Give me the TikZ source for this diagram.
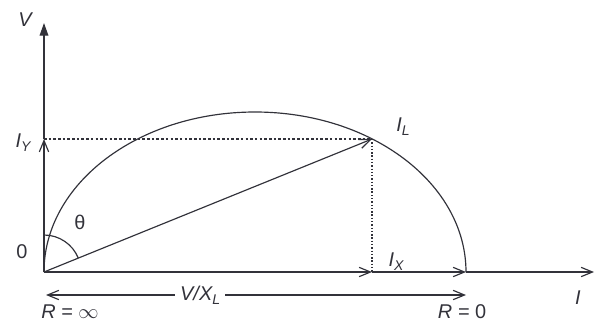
\documentclass[tikz,border=0pt]{standalone}
\usepackage{fontspec}
\setmainfont{Liberation Sans}
\usetikzlibrary{arrows.meta,positioning,calc}
\definecolor{ink}{RGB}{50,50,58}
\newcommand{\lsub}[2]{#1\raisebox{-0.4ex}{\fontsize{12}{12}\selectfont #2}}

\begin{document}
\begin{tikzpicture}[x=0.3mm,y=0.3mm,
    axis/.style={draw=ink,line width=1.1pt},
    vec/.style={draw=ink,line width=1pt,-{Straight Barb[length=3.4mm,width=2.8mm]}},
    proj/.style={draw=ink,line width=1pt},
    lbl/.style={text=ink,font=\fontsize{17}{17}\selectfont\itshape,inner sep=1pt}]
  \useasboundingbox (0,0) rectangle (596,325);
  % points of the diagram
  \coordinate (O) at (44,53);
  \coordinate (Vtop) at (44,302);
  \coordinate (Iend) at (594,53);
  \coordinate (IL) at (372,186);
  \coordinate (IY) at (44,186);
  \coordinate (IX) at (372,53);
  \coordinate (R0) at (466,53);
  \coordinate (Rl) at (46,30);
  \coordinate (Rr) at (466,30);

  % circle locus
  \draw[axis,line width=1pt] (O) arc[start angle=180,end angle=0,x radius=211,y radius=160];
  % axes
  \draw[vec] (O) -- (IY);
  \draw[axis,-{Triangle[length=3.8mm,width=2.6mm]}] (IY) -- (Vtop);
  \draw[vec] (O) -- (IX);
  \draw[vec] (IX) -- (R0);
  \draw[vec] (R0) -- (Iend);
  % current phasor and its parts
  \draw[vec] (O) -- (IL);
  \draw[proj,dash pattern=on 2.2pt off 1.8pt] (IY) -- (IL);
  \draw[proj,dash pattern=on 1.2pt off 1.6pt] (IL) -- (IX);
  \draw[axis,line width=1pt] ($(O)+(0,37)$) arc[start angle=90,end angle=22,radius=37];
  % range arrow
  \draw[vec,{Straight Barb[length=3.4mm,width=2.8mm]}-{Straight Barb[length=3.4mm,width=2.8mm]}]
    (Rl) -- node[pos=0.367,fill=white,lbl,inner xsep=4pt] (vxl) {V/\lsub{X}{L}} (Rr);

  % labels
  \node[lbl] (lV) at (25,305) {V};
  \node[lbl] (lIY) at (23,182) {\lsub{I}{Y}};
  \node[lbl,font=\fontsize{17}{17}\selectfont] (lO) at (22,73) {0};
  \node[lbl,font=\fontsize{17}{17}\selectfont] (lth) at (80,103) {θ};
  \node[lbl] (lIL) at (403,198) {\lsub{I}{L}};
  \node[lbl] (lIX) at (396,63) {\lsub{I}{X}};
  \node[lbl] (lI) at (578,27) {I};
  \node[lbl] (lRinf) at (70,13) {R = {\upshape$\infty$}};
  \node[lbl] (lR0) at (462,13) {R = {\upshape 0}};
\end{tikzpicture}
\end{document}
